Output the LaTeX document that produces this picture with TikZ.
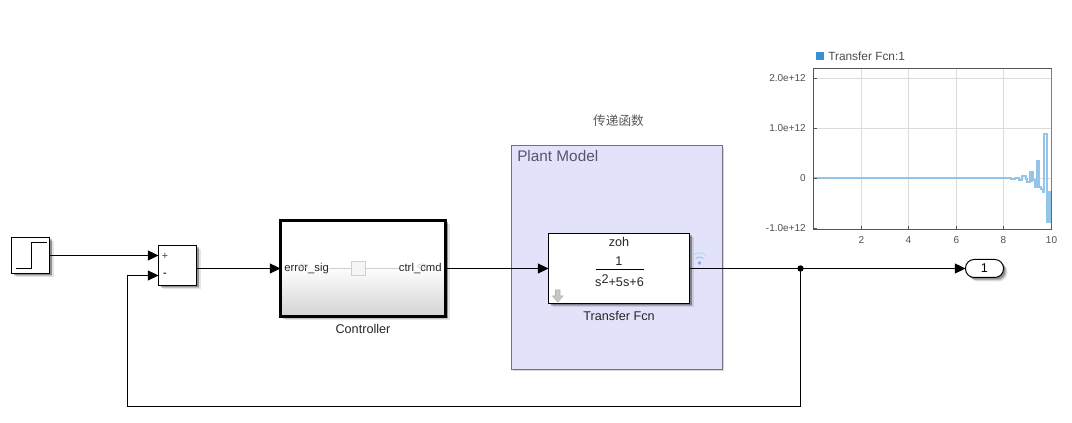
\documentclass[tikz,border=0pt]{standalone}
\usepackage{fontspec}
\setmainfont{Liberation Sans}
\newfontfamily\cjkfont{Noto Sans CJK SC}
\usetikzlibrary{arrows.meta,shadows}
\definecolor{plantfill}{HTML}{E2E2FB}
\definecolor{plantedge}{HTML}{70708A}
\definecolor{plantlabel}{HTML}{55556E}
\definecolor{sigblue}{HTML}{3A8FD0}
\definecolor{siglight}{HTML}{93C5E8}
\definecolor{gridgray}{HTML}{DCDCDC}
\definecolor{axisgray}{HTML}{555555}
\definecolor{ticktext}{HTML}{505050}
\definecolor{faint}{HTML}{CFCFCF}
\tikzset{
  softshadow/.style={
    general shadow={shadow xshift=3pt,shadow yshift=-3pt,fill=black,opacity=.10},
    general shadow={shadow xshift=2.2pt,shadow yshift=-2.2pt,fill=black,opacity=.16},
    general shadow={shadow xshift=1.5pt,shadow yshift=-1.5pt,fill=black,opacity=.25}},
  blockbox/.style={draw=black,fill=white,line width=.75pt,inner sep=0pt,outer sep=0pt,softshadow},
  wire/.style={draw=black,line width=.75pt},
  arrowwire/.style={wire,-{Triangle[length=8pt,width=7.5pt]}},
  ticklabel/.style={font=\fontsize{7.5pt}{9pt}\selectfont,text=ticktext,inner sep=0pt},
  blocktext/.style={font=\fontsize{9.5pt}{11pt}\selectfont,inner sep=0pt,text=black!85},
  innertext/.style={font=\fontsize{8.5pt}{10pt}\selectfont,inner sep=0pt,text=black!85},
  gridline/.style={draw=gridgray,line width=1pt},
  tickmark/.style={draw=axisgray,line width=.75pt},
}
\begin{document}
\begin{tikzpicture}[x=0.75pt,y=-0.75pt]
\useasboundingbox[fill=white] (0,0) rectangle (1072,423);

% Plant Model area
\node[draw=plantedge,fill=plantfill,line width=.75pt,minimum width=158.25pt,minimum height=168pt,inner sep=0pt,outer sep=0pt,
      general shadow={shadow xshift=1.2pt,shadow yshift=-1.2pt,fill=black,opacity=.15}] (plant) at (617,257.5) {};
\node[anchor=west,font=\fontsize{11.5pt}{13pt}\selectfont,text=plantlabel,inner sep=0pt] (plantlabel) at (517,156) {Plant Model};
\node[font=\cjkfont\fontsize{9.5pt}{11pt}\selectfont,text=black!65,inner sep=0pt] (cjklabel) at (618.5,121) {传递函数};

% Step
\node[blockbox,minimum width=28.5pt,minimum height=27pt] (step) at (30.5,255.5) {};
\draw[black,line width=.75pt] (15.5,268.5) -- (31.5,268.5) -- (31.5,242.5) -- (47,242.5);

% Sum
\node[blockbox,minimum width=28.5pt,minimum height=30pt] (sum) at (177.5,265.5) {};
\node[font=\fontsize{8pt}{9pt}\selectfont,inner sep=0pt,text=black!75] (plus) at (165,256) {+};
\node[font=\fontsize{8pt}{9pt}\selectfont,inner sep=0pt,text=black!75] (minus) at (165,275) {\textbf{-}};
\coordinate (sumA) at (158.5,255.5);
\coordinate (sumB) at (158.5,275.5);

% Controller
\node[draw=black,fill=white,line width=2.25pt,inner sep=0pt,outer sep=0pt,minimum width=123.75pt,minimum height=72pt,softshadow] (ctrl) at (363,268.5) {};
\foreach \row [evaluate=\row as \pct using {(\row-266)*0.34}] in {266,...,314} {
  \fill[black!\pct!white] (282,\row) rectangle (444,\row+1.2);
}
\node[draw=faint,fill=white!96!black,line width=.75pt,minimum width=11pt,minimum height=10.5pt,inner sep=0pt] (sq) at (358.5,268.5) {};
\node[anchor=west,innertext] (errsig) at (284,268.5) {error\_sig};
\node[anchor=east,innertext] (ctrlcmd) at (442,268.5) {ctrl\_cmd};
\draw[faint,line width=.75pt] (errsig.east) -- (sq.west);
\draw[faint,line width=.75pt] (sq.east) -- (ctrlcmd.west);
\draw[faint,line width=.5pt] (303.5,266) ellipse (4 and 2);
\draw[faint,line width=.5pt] (422,266) ellipse (4.5 and 2);
\node[blocktext] (ctrlname) at (363,329) {Controller};

% Transfer Fcn
\node[blockbox,line width=.9pt,minimum width=105.75pt,minimum height=52.5pt] (tf) at (619,268.5) {};
\node[blocktext] (zoh) at (619,242) {zoh};
\node[blocktext] (num) at (619,261) {1};
\node[blocktext] (den) at (619.5,280.5) {s\raisebox{2.5pt}{2}+5s+6};
\draw[black,line width=.75pt] (596,269.5) -- (644,269.5);
\node[blocktext] (tfname) at (619,316) {Transfer Fcn};
% parameter arrow icon
\draw[draw=black!30,fill=black!22,line width=.4pt] (555.5,290) -- (560,290) -- (560,296) -- (563,296) -- (557.8,302) -- (552.5,296) -- (555.5,296) -- cycle;
% wifi icon
\fill[siglight!85!blue] (699.5,263) circle (1.9);
\draw[siglight,line width=.7pt] (695.5,258.5) arc (225:315:5.6);
\draw[siglight!70,line width=.7pt] (693,255.5) arc (225:315:9.2);

% Outport
\node[draw=black,fill=white,line width=.75pt,rounded corners=6.5pt,minimum width=28.5pt,minimum height=13.5pt,inner sep=0pt,outer sep=0pt,
      font=\fontsize{9.5pt}{11pt}\selectfont,softshadow] (outp) at (984.5,268.5) {1};

% Wires
\coordinate (junc) at (800.5,268.5);
\coordinate (fbA) at (800.5,406.5);
\coordinate (fbB) at (127.5,406.5);
\coordinate (fbC) at (127.5,275.5);
\draw[arrowwire] (step.east) -- (sumA);
\draw[arrowwire] (sum.east |- ctrl.west) -- (ctrl.west);
\draw[arrowwire] (ctrl.east) -- (tf.west |- ctrl.east);
\draw[arrowwire] (tf.east |- junc) -- (junc) -- (outp.west);
\draw[arrowwire] (junc) -- (fbA) -- (fbB) -- (fbC) -- (sumB);
\fill[black] (junc) circle (3.2);

% Scope plot
\foreach \xp in {861.5,908.5,956.5,1003.5} {\draw[gridline] (\xp,68.5) -- (\xp,229.5);}
\foreach \yp in {78.5,128.5,178.5} {\draw[gridline] (813.5,\yp) -- (1051.5,\yp);}
% signal
\draw[siglight,line width=1.5pt] (813.5,178.5) -- (1011,178.5) -- (1011,179.5) -- (1015,179.5) -- (1015,178.5) -- (1018.5,178.5) -- (1018.5,180.5) -- (1022,180.5) -- (1022,176.5) -- (1025.5,176.5) -- (1025.5,179.5) -- (1027,179.5) -- (1027,182.5) -- (1030,182.5) -- (1030,171.7) -- (1032.5,171.7) -- (1032.5,180) -- (1035,180) -- (1035,186.7) -- (1037,186.7) -- (1037,160.7) -- (1039.3,160.7) -- (1039.3,187.5) -- (1041,187.5) -- (1041,189) -- (1043.2,189) -- (1043.2,192.5) -- (1044.2,192.5) -- (1044.2,134) -- (1047.3,134) -- (1047.3,221.7) -- (1049.5,221.7) -- (1049.5,191);
\fill[siglight] (1030,171.7) rectangle (1032.5,182.5);
\fill[siglight] (1037,160.7) rectangle (1039.3,187.5);
\fill[siglight] (1047.3,191) rectangle (1049.8,221.7);
\draw[sigblue,line width=.9pt] (1051.5,69) -- (1051.5,191);
\draw[black!60,line width=.9pt] (1051.5,191) -- (1051.5,229);
% axes
\draw[axisgray,line width=.75pt] (813.5,68.5) -- (1051.5,68.5);
\draw[axisgray,line width=.75pt] (813.5,68.5) -- (813.5,229.5) -- (1051.5,229.5);
\foreach \xp/\lab in {861.5/2,908.5/4,956.5/6,1003.5/8,1051.5/10} {
  \draw[tickmark] (\xp,229.5) -- (\xp,226);
  \node[ticklabel] at (\xp,240.5) {\lab};
}
\foreach \yp/\lab in {78.5/2.0e+12,128.5/1.0e+12,178.5/0,228.5/-1.0e+12} {
  \draw[tickmark] (813.5,\yp) -- (817,\yp);
  \node[ticklabel,anchor=east] at (806,\yp) {\lab};
}
\fill[sigblue] (816,52.5) rectangle (824,60.5);
\node[anchor=west,font=\fontsize{8.9pt}{10pt}\selectfont,text=black!70,inner sep=0pt] (legend) at (828,56.5) {Transfer Fcn:1};
\end{tikzpicture}
\end{document}
